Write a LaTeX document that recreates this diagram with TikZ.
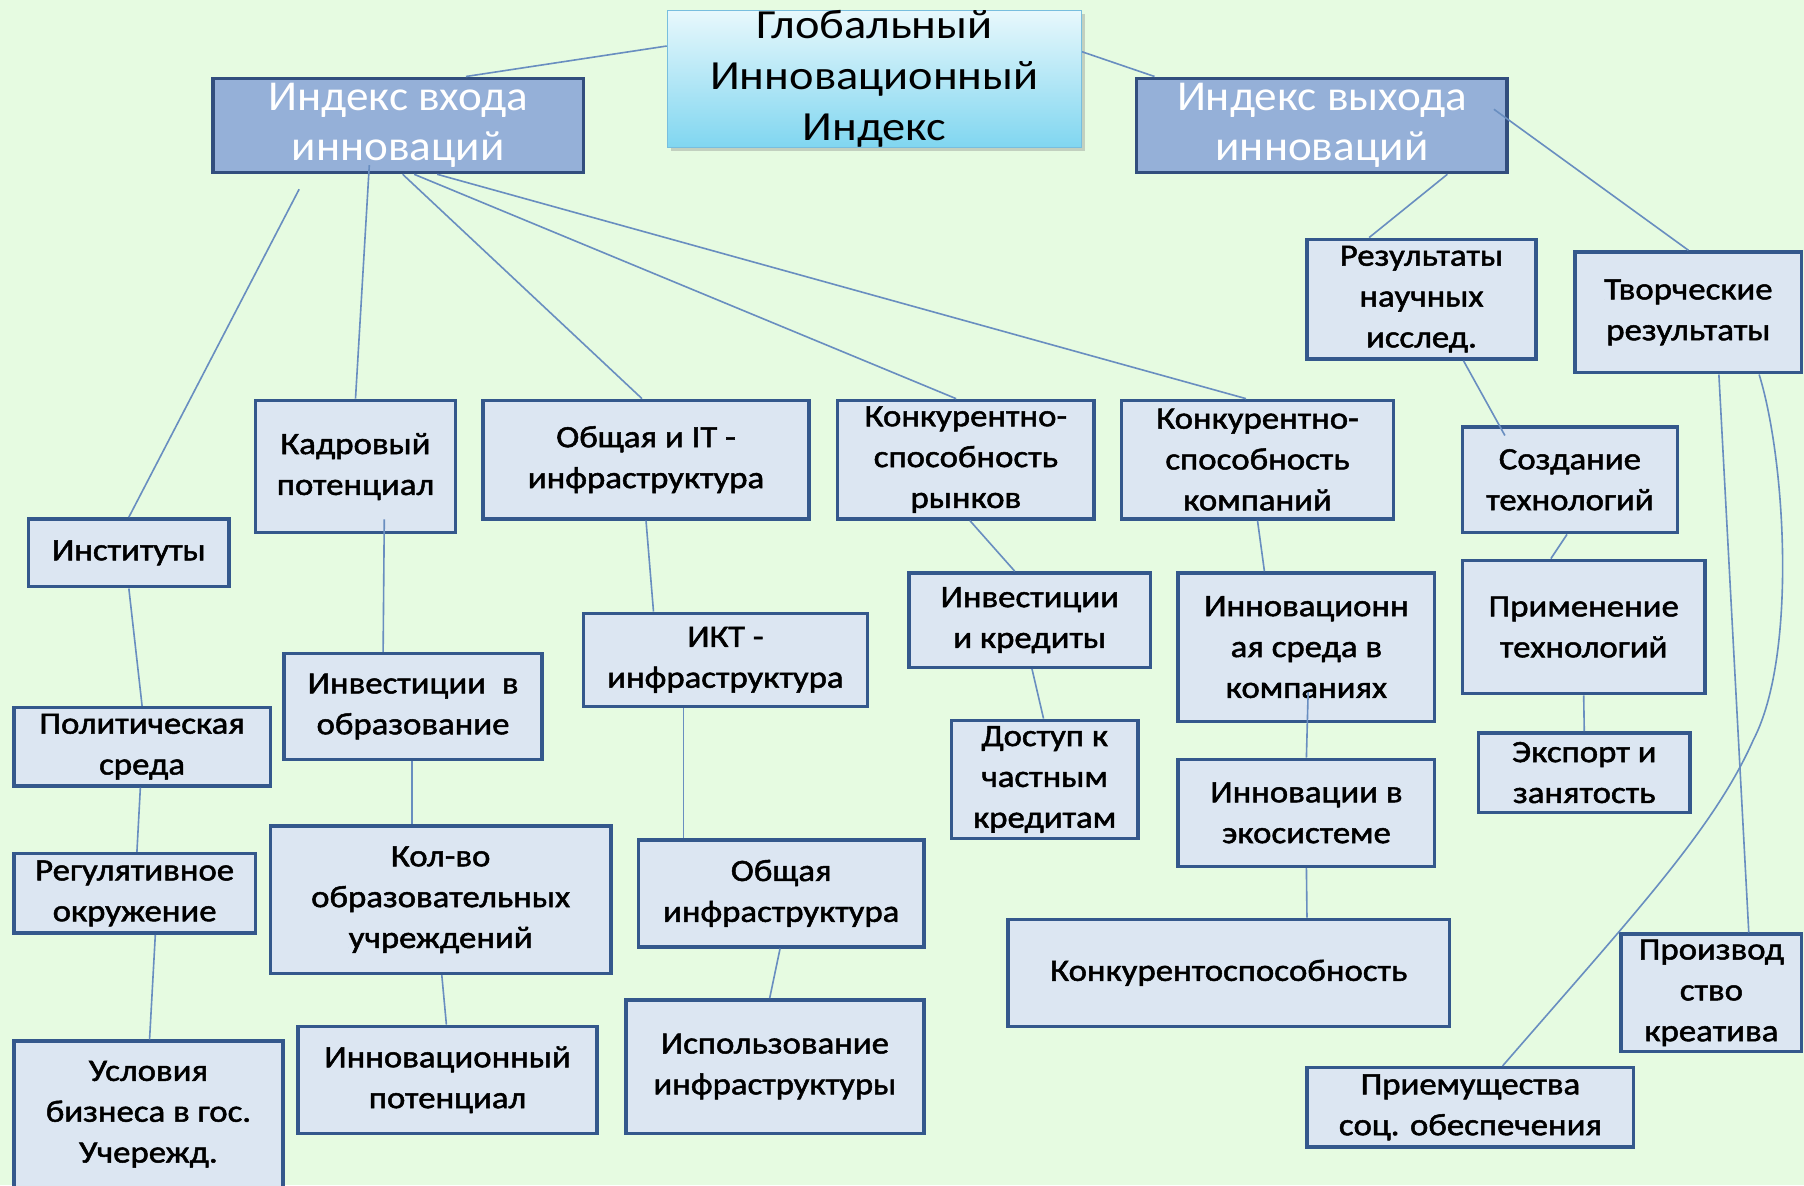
\documentclass[tikz,border=0pt]{standalone}
\usepackage{fontspec}
\setmainfont{Carlito}
\newfontfamily\bxf[FakeBold=1.6,FakeStretch=1.12]{Carlito}
\newfontfamily\hdf[FakeStretch=1.06]{Carlito}
\newfontfamily\glf[FakeStretch=1.12]{Carlito}
\usetikzlibrary{shadows,calc}
\definecolor{bg}{RGB}{230,251,225}
\definecolor{bxfill}{RGB}{220,230,242}
\definecolor{bxdraw}{RGB}{52,88,140}
\definecolor{hdfill}{RGB}{149,176,216}
\definecolor{hddraw}{RGB}{50,78,125}
\definecolor{lncol}{RGB}{105,142,192}
\definecolor{gtop}{RGB}{232,248,252}
\definecolor{gbot}{RGB}{128,214,240}
\definecolor{gdraw}{RGB}{120,190,222}
\begin{document}
\begin{tikzpicture}[x=1pt,y=-1pt,
 bx/.style={draw=bxdraw, line width=3pt, fill=bxfill, inner sep=0pt, align=center, font=\fontsize{27}{35.5}\bxf, text=black},
 hd/.style={draw=hddraw, line width=3pt, fill=hdfill, inner sep=0pt, align=center, font=\fontsize{37}{43}\hdf, text=white},
 gl/.style={draw=gdraw, line width=1pt, top color=gtop, bottom color=gbot, inner sep=0pt, align=center, font=\fontsize{36}{44.5}\glf, text=black, drop shadow={shadow xshift=3pt, shadow yshift=-3pt, opacity=0.35}},
 cn/.style={draw=lncol, line width=1.4pt}]
\useasboundingbox (0,0) rectangle (1568,1030);
\fill[bg] (0,0) rectangle (1568,1030);
% top level
\node[gl, minimum width=360pt, minimum height=117pt] (glob) at (760,68.5) {Глобальный\\Инновационный\\Индекс};
\node[hd, minimum width=322pt, minimum height=82pt] (inp) at (346,109) {Индекс входа\\инноваций};
\node[hd, minimum width=322pt, minimum height=82pt] (out) at (1149,109) {Индекс выхода\\инноваций};
% boxes
\node[bx, minimum width=199pt, minimum height=104pt] (res) at (1235.5,260) {Результаты\\научных\\исслед.};
\node[bx, minimum width=197pt, minimum height=105pt] (tvor) at (1467.5,271.5) {Творческие\\результаты};
\node[bx, minimum width=174pt, minimum height=115pt] (kadr) at (309,405.5) {Кадровый\\потенциал};
\node[bx, minimum width=283pt, minimum height=103pt] (obsh) at (561.5,399.5) {Общая и IT -\\инфраструктура};
\node[bx, minimum width=223pt, minimum height=103pt] (konr) at (839.5,399.5) {Конкурентно-\\способность\\рынков};
\node[bx, minimum width=236pt, minimum height=103pt] (konk) at (1093,399.5) {Конкурентно-\\способность\\компаний};
\node[bx, minimum width=187pt, minimum height=92pt] (sozd) at (1364.5,417) {Создание\\технологий};
\node[bx, minimum width=174pt, minimum height=59pt] (inst) at (112,480.5) {Институты};
\node[bx, minimum width=210pt, minimum height=82pt] (invk) at (895,539) {Инвестиции\\и кредиты};
\node[bx, minimum width=223pt, minimum height=129pt] (innsr) at (1135.5,562.5) {Инновационн\\ая среда в\\компаниях};
\node[bx, minimum width=211pt, minimum height=116pt] (prim) at (1376.5,545) {Применение\\технологий};
\node[bx, minimum width=247pt, minimum height=81pt] (ikt) at (630.5,573.5) {ИКТ -\\инфраструктура};
\node[bx, minimum width=224pt, minimum height=92pt] (invo) at (359,614) {Инвестиции\ \ в\\образование};
\node[bx, minimum width=223pt, minimum height=68pt] (polit) at (123.5,649) {Политическая\\среда};
\node[bx, minimum width=162pt, minimum height=103pt] (dost) at (908,677.5) {Доступ к\\частным\\кредитам};
\node[bx, minimum width=184pt, minimum height=69pt] (exp) at (1377,671.5) {Экспорт и\\занятость};
\node[bx, minimum width=223pt, minimum height=93pt] (eco) at (1135.5,706.5) {Инновации в\\экосистеме};
\node[bx, minimum width=296pt, minimum height=128pt] (kol) at (383,782) {Кол-во\\образовательных\\учреждений};
\node[bx, minimum width=248pt, minimum height=93pt] (obi) at (679,776.5) {Общая\\инфраструктура};
\node[bx, minimum width=210pt, minimum height=69pt] (reg) at (117,776.5) {Регулятивное\\окружение};
\node[bx, minimum width=384pt, minimum height=93pt] (konkur) at (1068,845.5) {Конкурентоспособность};
\node[bx, minimum width=157pt, minimum height=102pt] (proizv) at (1487.5,863) {Производ\\ство\\креатива};
\node[bx, minimum width=234pt, minimum height=127pt] (usl) at (129,968.5) {Условия\\бизнеса в гос.\\Учережд.};
\node[bx, minimum width=260pt, minimum height=93pt] (innp) at (389,938.5) {Инновационный\\потенциал};
\node[bx, minimum width=259pt, minimum height=116pt] (isp) at (673.5,927) {Использование\\инфраструктуры};
\node[bx, minimum width=284pt, minimum height=69pt] (prem) at (1278,962.5) {Приемущества\\соц. обеспечения};
% connectors
\draw[cn] ([yshift=28.5pt]glob.west) -- ([xshift=59pt]inp.north);
\draw[cn] ([yshift=23.5pt]glob.east) -- ([xshift=17pt]out.north west);
\draw[cn] ([xshift=-86pt,yshift=-13pt]inp.south) -- (inst.north);
\draw[cn] ([xshift=-25pt,yshift=8pt]inp.south) -- (kadr.north);
\draw[cn] ([xshift=4pt]inp.south) -- ([xshift=-3.5pt]obsh.north);
\draw[cn] ([xshift=14pt]inp.south) -- ([xshift=-8.5pt]konr.north);
\draw[cn] ([xshift=34pt]inp.south) -- ([xshift=-10pt]konk.north);
\draw[cn] ([xshift=109pt]out.south) -- ([xshift=-45.5pt]res.north);
\draw[cn] ([xshift=-13pt,yshift=14pt]out.east) -- (tvor.north);
\draw[cn] ([xshift=36.5pt]res.south) -- ([xshift=-56.5pt,yshift=-9pt]sozd.north);
\draw[cn] ([xshift=-2.5pt]sozd.south) -- ([xshift=-28.5pt]prim.north);
\draw[cn] (prim.south) -- (exp.north);
\draw[cn] ([xshift=26.5pt]tvor.south) -- ([xshift=32.5pt]proizv.north);
\draw[cn] ([xshift=61.5pt]tvor.south) .. controls (1552,400) and (1562,570) .. (1524,643) .. controls (1490,720) and (1420,795) .. ([xshift=28pt]prem.north);
\draw[cn] ([xshift=25pt,yshift=13pt]kadr.south) -- ([xshift=-26pt]invo.north);
\draw[cn] ([xshift=-1pt]invo.south) -- ([xshift=-25pt]kol.north);
\draw[cn] ([xshift=1pt]kol.south) -- ([xshift=-1pt]innp.north);
\draw[cn] (obsh.south) -- ([xshift=-62.5pt]ikt.north);
\draw[cn] ([xshift=-36.5pt]ikt.south) -- ([xshift=-85pt]obi.north);
\draw[cn] ([xshift=-1pt]obi.south) -- ([xshift=-4.5pt]isp.north);
\draw[cn] ([xshift=3.5pt]konr.south) -- ([xshift=-13pt]invk.north);
\draw[cn] ([xshift=2pt]invk.south) -- ([xshift=-1pt]dost.north);
\draw[cn] (konk.south) -- ([xshift=-36.5pt]innsr.north);
\draw[cn] ([xshift=1.5pt,yshift=27pt]innsr.south) -- (eco.north);
\draw[cn] (eco.south) -- ([xshift=68pt]konkur.north);
\draw[cn] (inst.south) -- (polit.north);
\draw[cn] ([xshift=-1.5pt]polit.south) -- ([xshift=2pt]reg.north);
\draw[cn] ([xshift=18pt]reg.south) -- ([xshift=1pt]usl.north);
\end{tikzpicture}
\end{document}
